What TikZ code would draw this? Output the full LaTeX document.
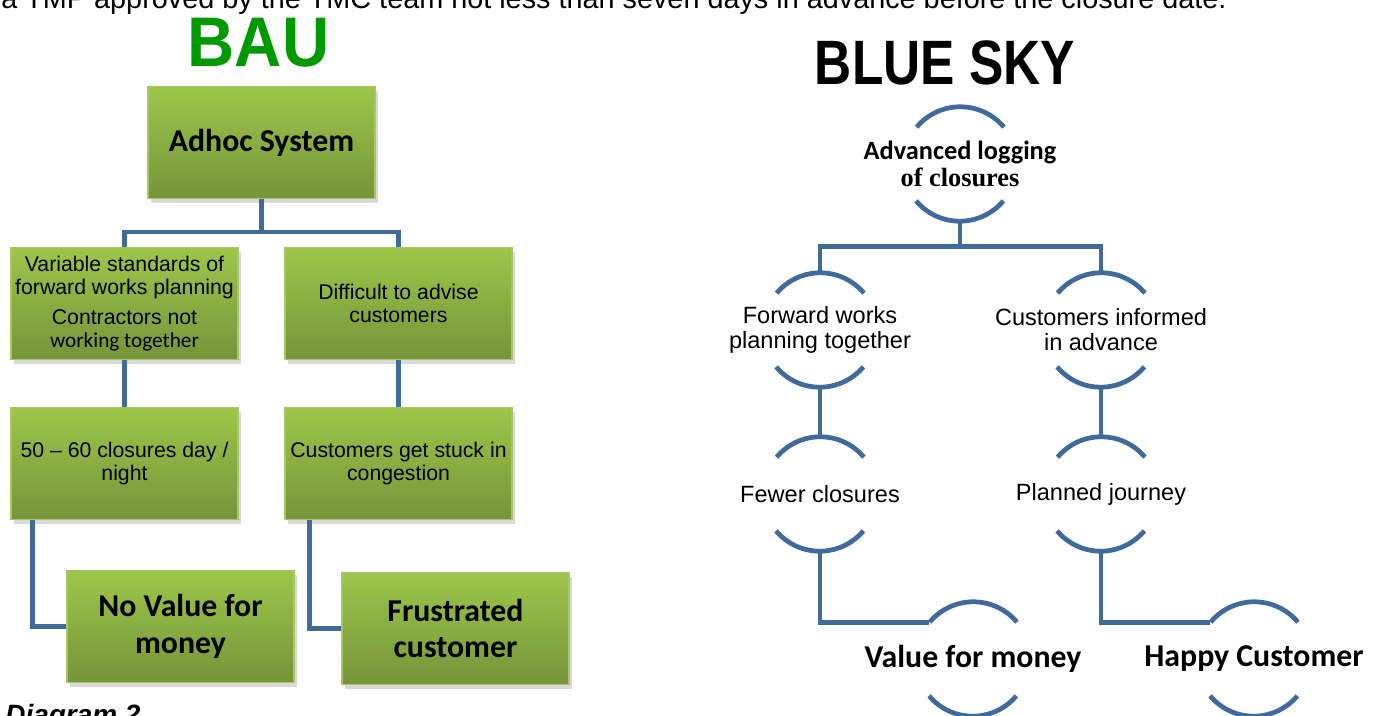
\documentclass[tikz,border=0pt]{standalone}
\usepackage{fontspec}
\setmainfont{Liberation Sans}
\newfontfamily\calibri{Carlito}
\newfontfamily\timesbold{Liberation Serif}
\usetikzlibrary{shadows}

\definecolor{boxtop}{RGB}{157,198,74}
\definecolor{boxbottom}{RGB}{118,148,58}
\definecolor{boxedge}{RGB}{165,200,100}
\definecolor{linkblue}{RGB}{65,106,156}
\definecolor{baugreen}{RGB}{0,153,0}

\tikzset{
  greenbox/.style={rectangle, minimum width=4.54cm, minimum height=2.24cm, inner sep=2pt,
    top color=boxtop, bottom color=boxbottom, draw=boxedge, line width=0.6pt, align=center,
    drop shadow={shadow xshift=1.5pt, shadow yshift=-2.5pt, opacity=0.3}},
  boxtext/.style={font=\fontsize{12.1}{13}\selectfont},
  boxbig/.style={font=\calibri\bfseries\fontsize{18.1}{21}\selectfont},
  link/.style={draw=linkblue, line width=2.7pt},
  skynode/.style={circle, minimum size=2.28cm, inner sep=0pt},
  skytext/.style={align=center, font=\fontsize{13.4}{14.2}\selectfont},
  skybig/.style={align=center, font=\calibri\bfseries\fontsize{18.1}{21}\selectfont},
}

\begin{document}
\begin{tikzpicture}[x=0.02cm, y=-0.02cm]
        \useasboundingbox (0,0) rectangle (1380,716);
        \clip (0,0) rectangle (1380,716);

        % Running text and headings
        \node[anchor=base west, inner sep=0pt, font=\fontsize{16.4}{18}\selectfont] (intro) at (1,9)
            {a TMP approved by the TMC team not less than seven days in advance before the closure date.};
        \node[anchor=base, inner sep=0pt, text=baugreen, font=\bfseries\fontsize{40}{44}\selectfont, xscale=0.93] (bau) at (258.5,67) {BAU};
        \node[anchor=base, inner sep=0pt, font=\bfseries\fontsize{35.7}{40}\selectfont, xscale=0.82] (bluesky) at (945,85) {BLUE SKY};
        \node[anchor=base west, inner sep=0pt, font=\bfseries\itshape\fontsize{15.9}{18}\selectfont] (caption) at (5,724) {Diagram 2};

        % BAU boxes
        \node[greenbox, boxbig] (adhoc) at (261.5,142.5) {Adhoc System};
        \node[greenbox, boxtext] (vary) at (124.5,303.5)
            {Variable standards of\\forward works planning\\[4pt]Contractors not\\{\calibri working together}};
        \node[greenbox, boxtext] (diff) at (398.5,303.5) {Difficult to advise\\customers};
        \node[greenbox, boxtext] (nights) at (124.5,463.5) {50 – 60 closures day /\\night};
        \node[greenbox, boxtext] (stuck) at (398.5,463.5) {Customers get stuck in\\congestion};
        \node[greenbox, boxbig] (novalue) at (180.5,626.5) {No Value for\\money};
        \node[greenbox, boxbig] (frust) at (455.5,628.5) {Frustrated\\customer};

        % BAU connectors
        \draw[link] (adhoc.south) -- ++(0,33) coordinate (split) -| (vary.north);
        \draw[link] (split) -| (diff.north);
        \draw[link] (vary.south) -- (nights.north);
        \draw[link] (diff.south) -- (stuck.north);
        \draw[link] ([xshift=0.44cm]nights.south west) |- (novalue.west);
        \draw[link] ([xshift=0.5cm]stuck.south west) |- (frust.west);

        % Blue sky nodes
        \node[skynode, label={[skytext, font=\bfseries\fontsize{15}{15}\selectfont]center:{\calibri Advanced logging}\\{\timesbold of closures}}] (adv) at (960,164) {};
        \node[skynode, label={[skytext]center:Forward works\\planning together}] (fwd) at (820,330) {};
        \node[skynode, label={[skytext]center:Customers informed\\in advance}] (inf) at (1101,330) {};
        \node[skynode, label={[skytext]center:Fewer closures}] (few) at (820,494) {};
        \node[skynode, label={[skytext]center:Planned journey}] (plan) at (1101,494) {};
        \node[skynode, label={[skybig]center:Value for money}] (vfm) at (973,659) {};
        \node[skynode, label={[skybig]center:Happy Customer}] (happy) at (1254,659) {};

        % Upper and lower arcs round each node
        \foreach \n in {adv,fwd,inf,few,plan,vfm,happy}
            \draw[link] (\n.40) arc[start angle=40, end angle=140, radius=1.14cm]
                        (\n.220) arc[start angle=220, end angle=320, radius=1.14cm];

        % Blue sky connectors
        \draw[link] (adv.south) -- ++(0,25) coordinate (fork) -| (fwd.north);
        \draw[link] (fork) -| (inf.north);
        \draw[link] (fwd.south) -- (few.north);
        \draw[link] (inf.south) -- (plan.north);
        \draw[link] (few.south) |- (vfm.140);
        \draw[link] (plan.south) |- (happy.140);

    \end{tikzpicture}
\end{document}
